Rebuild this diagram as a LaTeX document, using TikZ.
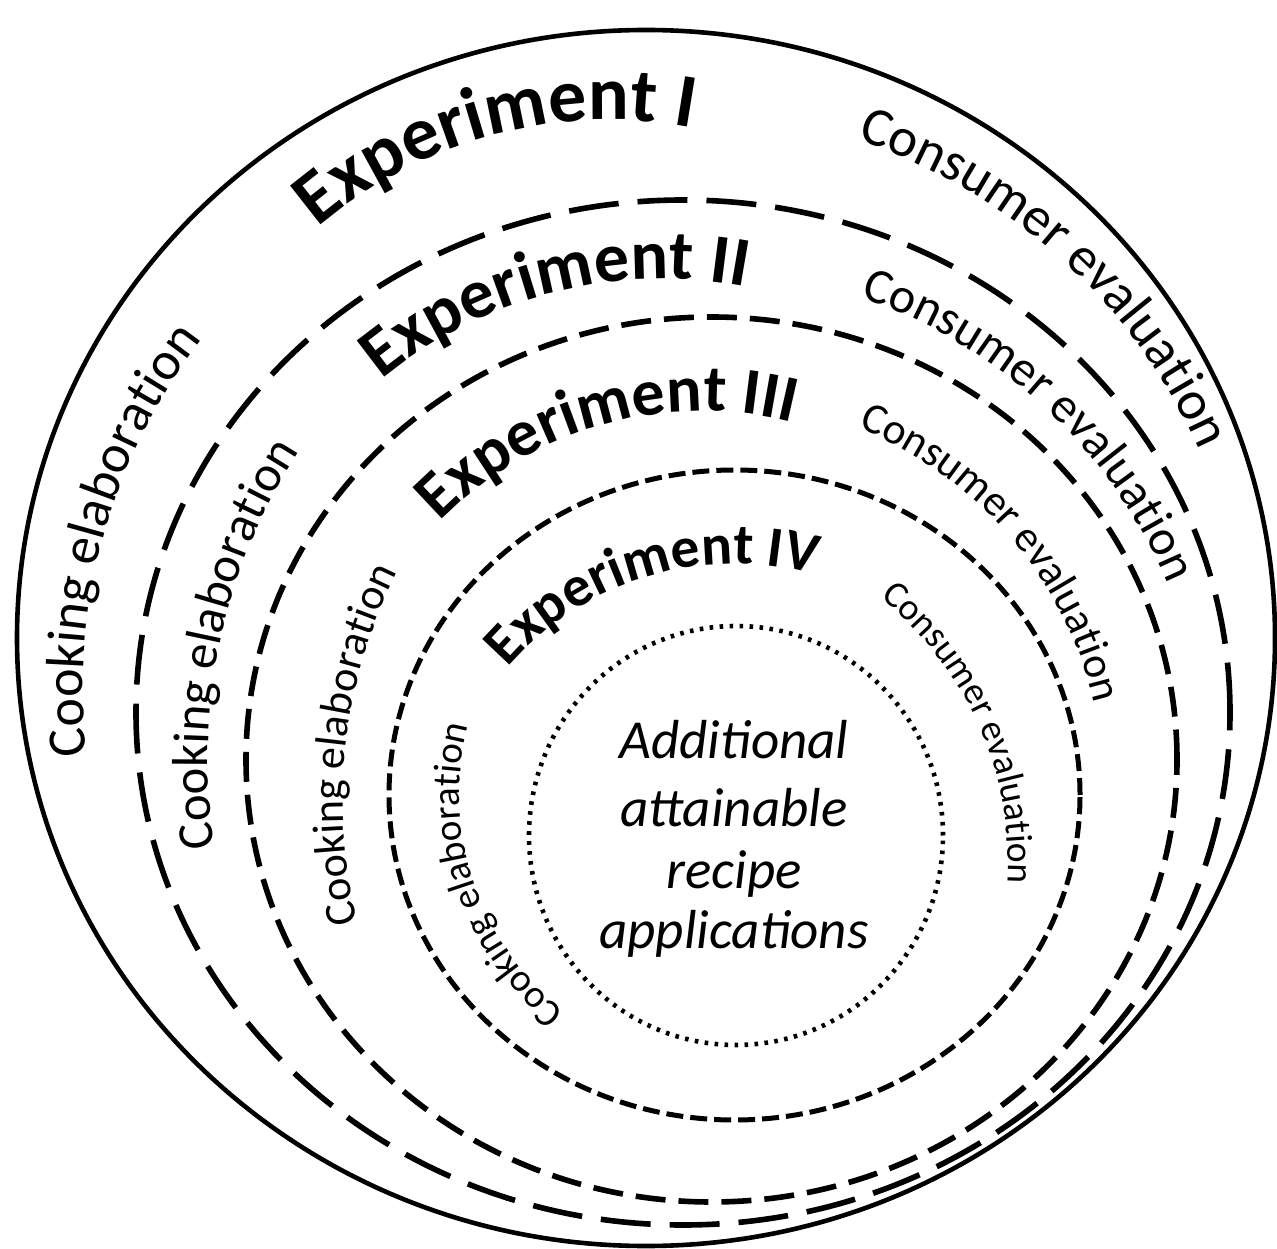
\documentclass[tikz,border=0pt]{standalone}
\usepackage{fontspec}
\setmainfont{Carlito}
\usetikzlibrary{decorations.text}
\newcommand\fsz[1]{\fontsize{#1pt}{#1pt}\selectfont}
\begin{document}
\begin{tikzpicture}[x=0.5pt,y=0.5pt,
  solidring/.style={line width=2.3pt},
  longdash/.style={line width=2.8pt, dash pattern=on 25pt off 9.5pt},
  middash/.style={line width=2.8pt, dash pattern=on 15pt off 6.5pt},
  shortdash/.style={line width=2.5pt, dash pattern=on 8.5pt off 3.5pt},
  dotring/.style={line width=2.3pt, dash pattern=on 1.8pt off 3.2pt},
  arctext/.style={decorate, decoration={text along path, text align=center, text={#1}}},
  centertext/.style={font=\fsz{27.5}\itshape, anchor=base, inner sep=0pt}]
\fill[white] (0,0) rectangle (1277,1248);
\useasboundingbox (0,0) rectangle (1277,1248);
\begin{scope}
\clip (0,0) rectangle (1277,1248);
% rings
\coordinate (o0) at (646,610);
\coordinate (o2) at (683,535.5);
\coordinate (o3) at (711.5,488.5);
\coordinate (o4) at (734.5,453);
\coordinate (o5) at (736,412.5);
\draw[solidring] (o0) ellipse [x radius=314.5pt, y radius=304pt];
\draw[longdash] (o2) ellipse [x radius=273.5pt, y radius=256.25pt];
\draw[middash] (o3) ellipse [x radius=232.75pt, y radius=221.25pt];
\draw[shortdash] (o4) ellipse [x radius=172.75pt, y radius=162.5pt];
\draw[dotring] (o5) ellipse [x radius=103.5pt, y radius=104.75pt];
\end{scope}
% experiment labels
\coordinate (e1) at (610,678);
\coordinate (e2) at (662,528);
\coordinate (e3) at (703,470);
\coordinate (e4) at (734.6,385.3);
\path[arctext={|\fsz{38}\bfseries|Experiment I}] (e1) ++(150:225pt) arc[start angle=150, end angle=60, radius=225pt];
\path[arctext={|\fsz{35}\bfseries|Experiment II}] (e2) ++(149.3:220.5pt) arc[start angle=149.3, end angle=59.3, radius=220.5pt];
\path[arctext={|\fsz{33}\bfseries|Experiment III}] (e3) ++(150.8:183.5pt) arc[start angle=150.8, end angle=60.8, radius=183.5pt];
\path[arctext={|\fsz{28.75}\bfseries|Experiment IV}] (e4) ++(156.9:149.5pt) arc[start angle=156.9, end angle=56.9, radius=149.5pt];
% consumer evaluation
\coordinate (c1) at (677,565);
\coordinate (c2) at (695,465);
\coordinate (c3) at (712,455);
\coordinate (c4) at (670,385);
\path[arctext={|\fsz{27.5}|Consumer evaluation}] (c1) ++(92.8:286pt) arc[start angle=92.8, end angle=2.8, radius=286pt];
\path[arctext={|\fsz{25}|Consumer evaluation}] (c2) ++(92:256.5pt) arc[start angle=92, end angle=2, radius=256.5pt];
\path[arctext={|\fsz{21.8}|Consumer evaluation}] (c3) ++(95.7:196.5pt) arc[start angle=95.7, end angle=-14.3, radius=196.5pt];
\path[arctext={|\fsz{18.75}|Consumer evaluation}] (c4) ++(84.1:169pt) arc[start angle=84.1, end angle=-35.9, radius=169pt];
% cooking elaboration
\coordinate (k1) at (649,561);
\coordinate (k2) at (774,489);
\coordinate (k3) at (858,446);
\coordinate (k4) at (734.5,453);
\path[arctext={|\fsz{27}|Cooking elaboration}] (k1) ++(214.5:283pt) arc[start angle=214.5, end angle=114.5, radius=283pt];
\path[arctext={|\fsz{25.3}|Cooking elaboration}] (k2) ++(213:283pt) arc[start angle=213, end angle=123, radius=283pt];
\path[arctext={|\fsz{22}|Cooking elaboration}] (k3) ++(218.5:257.5pt) arc[start angle=218.5, end angle=128.5, radius=257.5pt];
\path[arctext={|\fsz{19.5}|Cooking elaboration}] (k4) ++(258.6:137.5pt) arc[start angle=258.6, end angle=138.6, radius=137.5pt];
% centre text
\node[centertext] (l1) at (734,490) {Additional};
\node[centertext] (l2) at (734,422) {attainable};
\node[centertext] (l3) at (734,360) {recipe};
\node[centertext] (l4) at (734,300) {applications};
\end{tikzpicture}
\end{document}
